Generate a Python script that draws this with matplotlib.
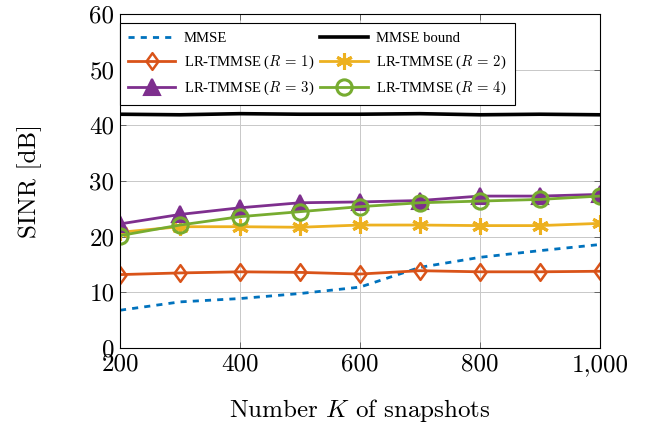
import matplotlib
matplotlib.use("Agg")
import matplotlib.pyplot as plt
from matplotlib.ticker import FuncFormatter, FixedLocator
from matplotlib.path import Path

plt.rcParams['mathtext.fontset'] = 'cm'
plt.rcParams['font.family'] = ['cmr10', 'DejaVu Serif']
plt.rcParams['axes.formatter.use_mathtext'] = True

K = [200, 300, 400, 500, 600, 700, 800, 900, 1000]
mmse = [6.8, 8.3, 8.9, 9.8, 10.95, 14.5, 16.3, 17.5, 18.6]
mmse_bound = [42.0, 41.9, 42.1, 42.0, 42.0, 42.1, 41.9, 42.0, 41.9]
r1 = [13.2, 13.5, 13.7, 13.6, 13.3, 13.9, 13.7, 13.7, 13.8]
r2 = [20.8, 21.8, 21.8, 21.7, 22.1, 22.1, 22.0, 22.0, 22.4]
r3 = [22.3, 24.0, 25.2, 26.1, 26.25, 26.5, 27.3, 27.3, 27.6]
r4 = [20.2, 22.1, 23.6, 24.5, 25.4, 26.1, 26.4, 26.7, 27.3]
xticks = [200, 400, 600, 800, 1000]
yticks = [0, 10, 20, 30, 40, 50, 60]

blue = '#0072BD'; orange = '#D95319'; yellow = '#EDB120'
purple = '#7E2F8E'; green = '#77AC30'

diamond = Path([(0, 1), (0.72, 0), (0, -1), (-0.72, 0), (0, 1)],
               [Path.MOVETO, Path.LINETO, Path.LINETO, Path.LINETO, Path.CLOSEPOLY])

fig = plt.figure(figsize=(6.47, 4.24), dpi=100)
ax = fig.add_axes([0.1855, 0.179, 0.7415, 0.788])

lw = 2.0
h_mmse, = ax.plot(K, mmse, color=blue, lw=lw, ls=(0, (2.2, 2.2)), label='MMSE')
h_bound, = ax.plot(K, mmse_bound, color='black', lw=2.6, label='MMSE bound')
h1, = ax.plot(K, r1, color=orange, lw=lw, marker=diamond, ms=12, mfc='none',
              mew=1.8, label=r'LR-TMMSE ($R\,=\,1$)')
h2, = ax.plot(K, r2, color=yellow, lw=lw, marker=(6, 2, 0), ms=12,
              mew=2.2, label=r'LR-TMMSE ($R\,=\,2$)')
h3, = ax.plot(K, r3, color=purple, lw=lw, marker='^', ms=11, mfc=purple,
              mew=1.5, label=r'LR-TMMSE ($R\,=\,3$)')
h4, = ax.plot(K, r4, color=green, lw=lw, marker='o', ms=11, mfc='none',
              mew=2.2, label=r'LR-TMMSE ($R\,=\,4$)')

ax.set_xlim(200, 1000)
ax.set_ylim(0, 60)
ax.xaxis.set_major_locator(FixedLocator(xticks))
ax.yaxis.set_major_locator(FixedLocator(yticks))
ax.xaxis.set_major_formatter(FuncFormatter(lambda v, p: f'{int(v):,}'))
ax.yaxis.set_major_formatter(FuncFormatter(lambda v, p: f'{int(v)}'))
ax.tick_params(direction='in', length=4, width=0.6, labelsize=18,
               top=True, right=True, color='#555555', pad=4)
ax.grid(True, color='#c8c8c8', lw=0.7)
ax.set_axisbelow(True)
for s in ax.spines.values():
    s.set_linewidth(0.8)
ax.set_xlabel(r'Number $K$ of snapshots', fontsize=18, labelpad=15)
ax.set_ylabel('SINR [dB]', fontsize=18, labelpad=34)

leg = ax.legend([h_mmse, h1, h3, h_bound, h2, h4],
                [h.get_label() for h in [h_mmse, h1, h3, h_bound, h2, h4]],
                ncol=2, loc='upper left', bbox_to_anchor=(0.0, 0.972),
                prop={'family': ['Liberation Serif'], 'size': 10.6},
                frameon=True, fancybox=False, edgecolor='black',
                framealpha=1, borderaxespad=0, handlelength=3.2,
                columnspacing=0.4, handletextpad=0.6, labelspacing=0.6,
                borderpad=0.55)
leg.get_frame().set_linewidth(0.8)

fig.savefig('out.png', dpi=100)
